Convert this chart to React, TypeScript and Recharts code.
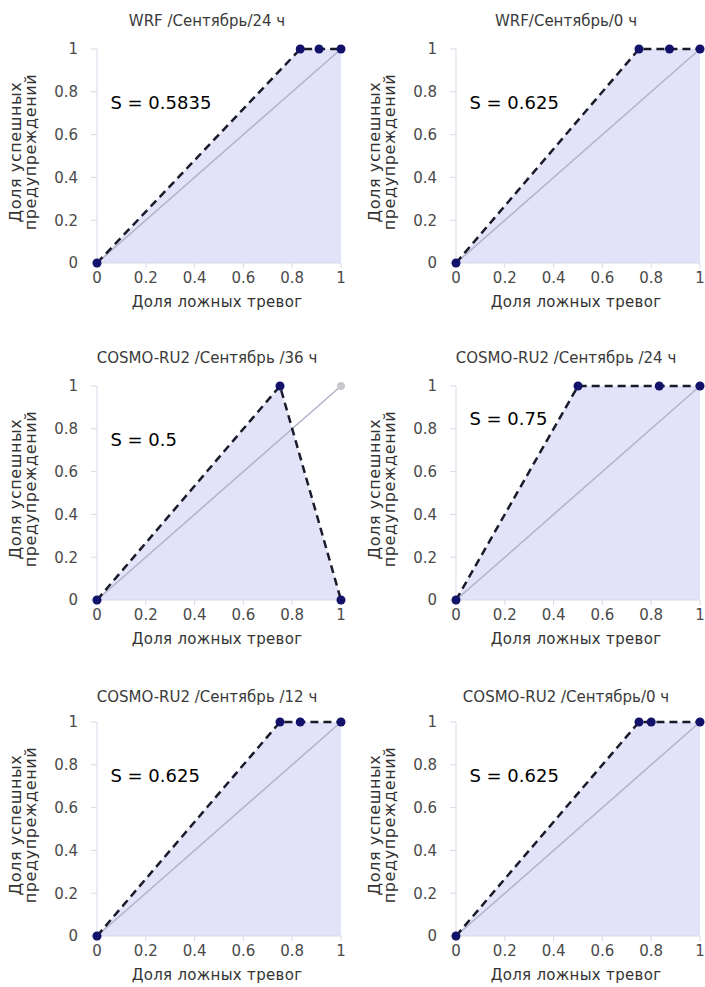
import React from "react";
import { ComposedChart, Area, Line, XAxis, YAxis, ReferenceDot } from "recharts";

// ROC curves, one per panel
const TICKS = [0, 0.2, 0.4, 0.6, 0.8, 1];

const TITLES = [
  "WRF /Сентябрь/24 ч",
  "WRF/Сентябрь/0 ч",
  "COSMO-RU2 /Сентябрь /36 ч",
  "COSMO-RU2 /Сентябрь /24 ч",
  "COSMO-RU2 /Сентябрь /12 ч",
  "COSMO-RU2 /Сентябрь/0 ч",
];

const AUC = [0.5835, 0.625, 0.5, 0.75, 0.625, 0.625];

const FALSE_ALARM = [
  [0, 0.833, 0.91, 1],
  [0, 0.75, 0.875, 1],
  [0, 0.75, 1],
  [0, 0.5, 0.833, 1],
  [0, 0.75, 0.833, 1],
  [0, 0.75, 0.8, 1],
];

const HIT_RATE = [
  [0, 1, 1, 1],
  [0, 1, 1, 1],
  [0, 1, 0],
  [0, 1, 1, 1],
  [0, 1, 1, 1],
  [0, 1, 1, 1],
];

const DIAG_X = [0, 1];
const DIAG_Y = [0, 1];

// layout
const COL_LEFT = [0, 359];
const ROW_TOP = [0, 337, 673];
const TITLE_TOP = [12, 12, 12, 12, 15, 15];
const S_LABEL_Y = [0.75, 0.75, 0.75, 0.85, 0.75, 0.75];

const FONT = "'DejaVu Sans', Verdana, sans-serif";
const NAVY = "#12126b";
const FILL = "#e2e2f8";
const AXIS = "#d9d9e8";

function RocPanel({ i }: { i: number }) {
  const roc = FALSE_ALARM[i].map((x, k) => ({ x, y: HIT_RATE[i][k] }));
  const diag = DIAG_X.map((x, k) => ({ x, y: DIAG_Y[k] }));

  return (
    <div
      style={{
        position: "absolute",
        left: COL_LEFT[i % 2],
        top: ROW_TOP[Math.floor(i / 2)],
        width: 360,
        height: 330,
      }}
    >
      <div
        style={{
          position: "absolute",
          left: 0,
          width: 414,
          top: TITLE_TOP[i],
          textAlign: "center",
          fontFamily: FONT,
          fontSize: 15,
          color: "#3a3a3a",
          whiteSpace: "nowrap",
        }}
      >
        {TITLES[i]}
      </div>
      <ComposedChart width={360} height={320} margin={{ top: 49, right: 19, bottom: 27, left: 0 }}>
        <XAxis
          type="number"
          dataKey="x"
          domain={[0, 1]}
          ticks={TICKS}
          height={30}
          stroke={AXIS}
          tickSize={5}
          tickMargin={4}
          tick={{ fill: "#4a4a4a", fontSize: 15, fontFamily: FONT }}
          label={{
            content: ({ viewBox }: any) => (
              <text
                x={viewBox.x + viewBox.width / 2 - 2}
                y={viewBox.y + 39}
                textAnchor="middle"
                dominantBaseline="central"
                fill="#333"
                fontSize={15}
                letterSpacing={0.3}
                fontFamily={FONT}
              >
                Доля ложных тревог
              </text>
            ),
          }}
        />
        <YAxis
          type="number"
          dataKey="y"
          domain={[0, 1]}
          ticks={TICKS}
          width={97}
          stroke={AXIS}
          tickSize={6}
          tickMargin={13}
          tick={{ fill: "#4a4a4a", fontSize: 15, fontFamily: FONT }}
          label={{
            content: ({ viewBox }: any) => {
              const cy = viewBox.y + viewBox.height / 2 - 4;
              return (
                <g fill="#333" fontSize={16} letterSpacing={0.6} fontFamily={FONT}>
                  <text x={15} y={cy} transform={`rotate(-90 15 ${cy})`} textAnchor="middle" dominantBaseline="central">
                    Доля успешных
                  </text>
                  <text x={30} y={cy} transform={`rotate(-90 30 ${cy})`} textAnchor="middle" dominantBaseline="central">
                    предупреждений
                  </text>
                </g>
              );
            },
          }}
        />
        <Area
          data={roc}
          dataKey="y"
          type="linear"
          fill={FILL}
          fillOpacity={1}
          stroke="none"
          isAnimationActive={false}
        />
        <Line
          data={diag}
          dataKey="y"
          type="linear"
          stroke="#b2b2c8"
          strokeWidth={1.5}
          dot={{ r: 4, fill: "#c8c8cc", stroke: "none" }}
          isAnimationActive={false}
        />
        <Line
          data={roc}
          dataKey="y"
          type="linear"
          stroke="#1a1a2a"
          strokeWidth={2.5}
          strokeDasharray="8 5"
          dot={{ r: 4.5, fill: NAVY, stroke: "none" }}
          isAnimationActive={false}
        />
        <ReferenceDot
          x={0.055}
          y={S_LABEL_Y[i]}
          r={0}
          fill="none"
          stroke="none"
          label={{
            content: ({ viewBox }: any) => (
              <text
                x={viewBox.x}
                y={viewBox.y}
                dominantBaseline="central"
                fill="#000"
                fontSize={18}
                fontFamily={FONT}
              >
                {`S = ${AUC[i]}`}
              </text>
            ),
          }}
        />
      </ComposedChart>
    </div>
  );
}

export default function App() {
  return (
    <div
      style={{
        position: "absolute",
        left: 0,
        top: 0,
        width: 705,
        height: 987,
        overflow: "hidden",
        background: "#fff",
      }}
    >
      {TITLES.map((_, i) => (
        <RocPanel key={i} i={i} />
      ))}
    </div>
  );
}
